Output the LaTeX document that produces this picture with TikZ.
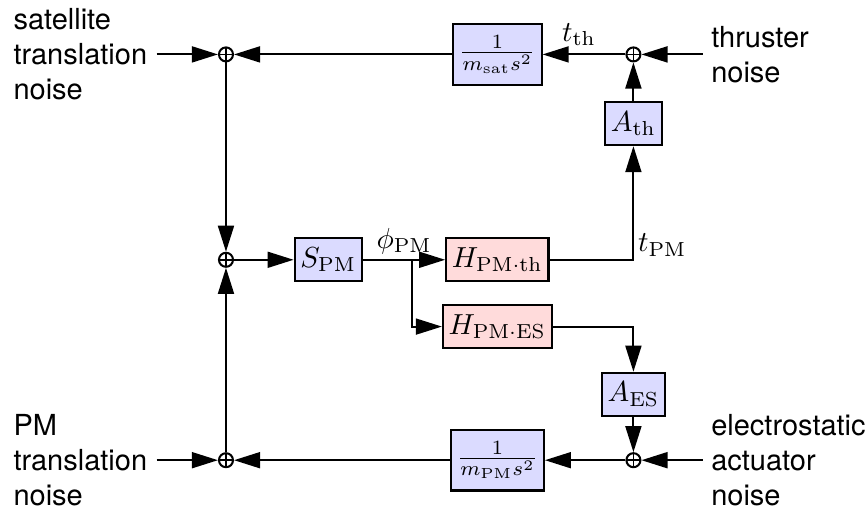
\documentclass[tikz,border=0pt]{standalone}
\usepackage{amsmath,amssymb}
\usepackage{fontspec}
\setsansfont{TeX Gyre Heros}
\usetikzlibrary{arrows.meta}

\begin{document}
\begin{tikzpicture}
        \tikzset{
          blockA/.style = {draw, line width=0.7pt, fill=blue!14, inner xsep=2pt, inner ysep=3pt, minimum height=0.52cm},
          blockH/.style = {draw, line width=0.7pt, fill=red!14, inner xsep=2pt, inner ysep=3pt, minimum height=0.52cm},
          sumnode/.style = {circle, draw, line width=0.7pt, minimum size=0.17cm, inner sep=0pt,
            path picture={\draw[line width=0.5pt] (path picture bounding box.north) -- (path picture bounding box.south)
              (path picture bounding box.west) -- (path picture bounding box.east);}},
          sig/.style = {line width=0.7pt, -{Triangle[length=9pt, width=5.5pt]}},
          noise/.style = {font=\sffamily, align=left, anchor=west}
        }
        \useasboundingbox (0,0) rectangle (10.50,6.19);
        % summing junctions
        \node[sumnode] (sumTL) at (2.74,5.53) {};
        \node[sumnode] (sumTR) at (7.68,5.53) {};
        \node[sumnode] (sumM) at (2.74,3.04) {};
        \node[sumnode] (sumBL) at (2.74,0.61) {};
        \node[sumnode] (sumBR) at (7.68,0.61) {};
        % blocks
        \node[blockA, inner ysep=4pt] (mSat) at (6.03,5.53) {$\frac{1}{m_{\mathrm{sat}}s^2}$};
        \node[blockA] (Ath) at (7.68,4.69) {$A_{\mathrm{th}}$};
        \node[blockA] (Spm) at (3.98,3.04) {$S_{\mathrm{PM}}$};
        \node[blockH] (Hth) at (6.03,3.04) {$H_{\mathrm{PM\cdot th}}$};
        \node[blockH] (Hes) at (6.03,2.23) {$H_{\mathrm{PM\cdot ES}}$};
        \node[blockA] (Aes) at (7.68,1.41) {$A_{\mathrm{ES}}$};
        \node[blockA, inner ysep=4pt] (mPm) at (6.03,0.61) {$\frac{1}{m_{\mathrm{PM}}s^2}$};
        % noise inputs
        \coordinate (satIn) at (1.90,5.53);
        \coordinate (thIn) at (8.52,5.53);
        \coordinate (pmIn) at (1.90,0.61);
        \coordinate (esIn) at (8.52,0.61);
        \coordinate (branch) at (5.00,3.04);
        \node[noise] at (0.04,5.53) {satellite\\translation\\noise};
        \node[noise] at (8.50,5.53) {thruster\\noise};
        \node[noise] at (0.04,0.61) {PM\\translation\\noise};
        \node[noise] at (8.50,0.61) {electrostatic\\actuator\\noise};
        % signal labels
        \node at (7.02,5.77) {$t_{\mathrm{th}}$};
        \node at (4.90,3.27) {$\phi_{\mathrm{PM}}$};
        \node at (8.03,3.22) {$t_{\mathrm{PM}}$};
        % connections
        \draw[sig] (satIn) -- (sumTL);
        \draw[sig] (mSat) -- (sumTL);
        \draw[sig] (sumTR) -- (mSat);
        \draw[sig] (thIn) -- (sumTR);
        \draw[sig] (Ath) -- (sumTR);
        \draw[sig] (Hth) -| (Ath);
        \draw[sig] (sumTL) -- (sumM);
        \draw[sig] (sumBL) -- (sumM);
        \draw[sig] (sumM) -- (Spm);
        \draw[sig] (Spm) -- (Hth);
        \draw[sig] (branch) |- (Hes);
        \draw[sig] (Hes) -| (Aes);
        \draw[sig] (Aes) -- (sumBR);
        \draw[sig] (esIn) -- (sumBR);
        \draw[sig] (sumBR) -- (mPm);
        \draw[sig] (mPm) -- (sumBL);
        \draw[sig] (pmIn) -- (sumBL);
\end{tikzpicture}
\end{document}
